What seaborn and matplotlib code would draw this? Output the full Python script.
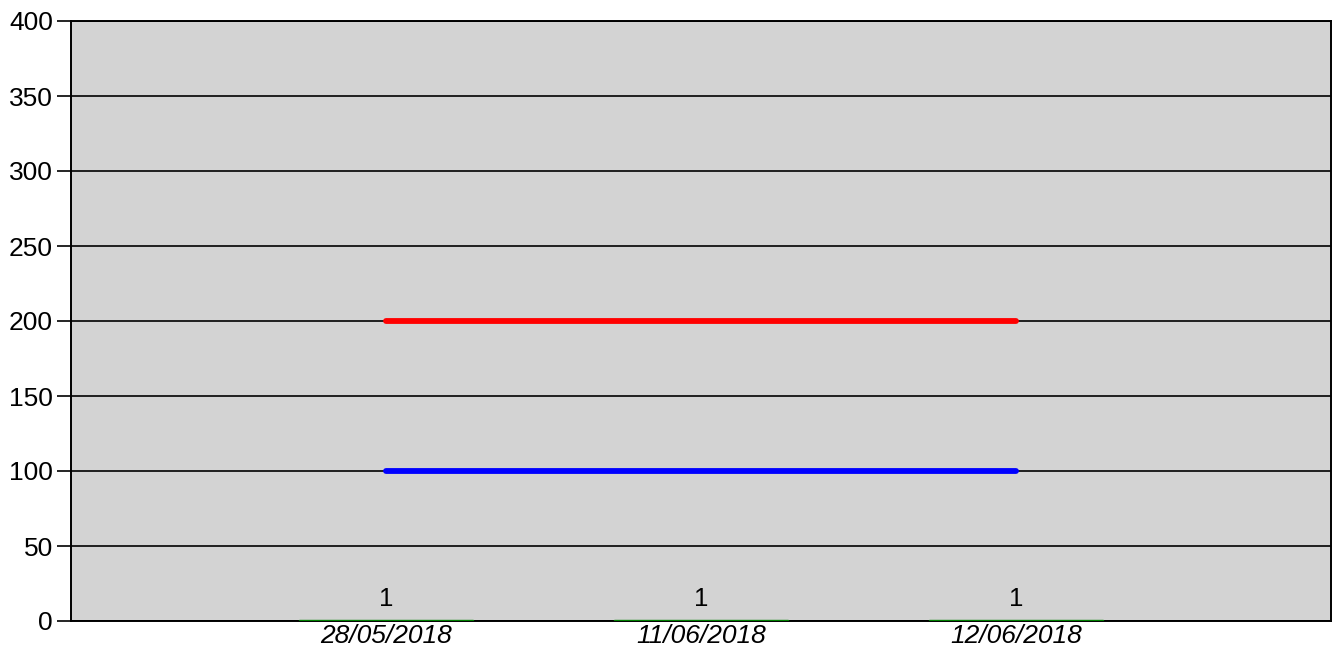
import matplotlib
matplotlib.use("Agg")
import matplotlib.pyplot as plt
import seaborn as sns
import numpy as np
import pandas as pd

# chart values
dates = ["28/05/2018", "11/06/2018", "12/06/2018"]
counts = [1, 1, 1]
upper_limit = [200, 200, 200]
lower_limit = [100, 100, 100]
y_ticks = [0, 50, 100, 150, 200, 250, 300, 350, 400]

sns.set_style("white", {'text.color': 'black', 'xtick.color': 'black',
                        'ytick.color': 'black', 'axes.labelcolor': 'black'})
plt.rcParams['font.family'] = ['Liberation Sans', 'DejaVu Sans']

fig = plt.figure(figsize=(13.33, 6.49), dpi=100)
ax = fig.add_axes([71 / 1333, 28 / 649, 1260 / 1333, 600 / 649])
ax.set_facecolor('#d3d3d3')

df = pd.DataFrame({'Date': dates, 'Count': counts})
sns.barplot(data=df, x='Date', y='Count', color='green', saturation=1,
            width=0.55, edgecolor='green', linewidth=1, ax=ax, zorder=3)
ax.bar_label(ax.containers[0], labels=[str(c) for c in counts],
             padding=6, fontsize=18.5, color='black')

pos = np.arange(len(dates))
sns.lineplot(x=pos, y=upper_limit, color='red', linewidth=4.2, ax=ax,
             solid_capstyle='round', zorder=4)
sns.lineplot(x=pos, y=lower_limit, color='blue', linewidth=4.2, ax=ax,
             solid_capstyle='round', zorder=4)

ax.set_xlim(-1, 3)
ax.set_ylim(0, 400)
ax.set_yticks(y_ticks)
ax.set_xticks(pos)
ax.set_xticklabels(dates, fontsize=19, style='italic', color='black')
ax.tick_params(axis='y', labelsize=19, length=10, width=1.2, colors='black',
               direction='out', left=True, pad=3)
ax.tick_params(axis='x', length=0, pad=2)
ax.yaxis.grid(True, color='black', linewidth=1.2, zorder=1)
ax.set_axisbelow(True)
ax.set_xlabel('')
ax.set_ylabel('')
for s in ax.spines.values():
    s.set_visible(True)
    s.set_color('black')
    s.set_linewidth(1.4)

fig.savefig('out.png', dpi=100)
